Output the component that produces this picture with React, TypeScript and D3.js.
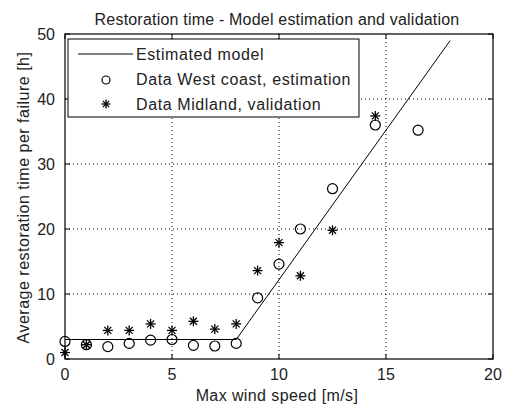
import React from "react";
import * as d3 from "d3";

const title = "Restoration time - Model estimation and validation";
const xLabel = "Max wind speed [m/s]";
const yLabel = "Average restoration time per failure [h]";
const xTicks = [0, 5, 10, 15, 20];
const yTicks = [0, 10, 20, 30, 40, 50];

const modelX = [0, 8, 18];
const modelY = [3, 3, 49];

const westX = [0, 1, 2, 3, 4, 5, 6, 7, 8, 9, 10, 11, 12.5, 14.5, 16.5];
const westY = [2.7, 2.2, 1.9, 2.4, 2.9, 3.0, 2.1, 2.0, 2.4, 9.4, 14.6, 20, 26.2, 36, 35.2];

const midX = [0, 1, 2, 3, 4, 5, 6, 7, 8, 9, 10, 11, 12.5, 14.5];
const midY = [1.0, 2.2, 4.4, 4.4, 5.4, 4.4, 5.8, 4.6, 5.4, 13.6, 17.9, 12.8, 19.8, 37.4];

const legendLabels = ["Estimated model", "Data West coast, estimation", "Data Midland, validation"];

const W = 505;
const H = 405;
const left = 65, right = 493, top = 34, bottom = 359;
const font = "'Liberation Sans', Arial, sans-serif";

function Star({ cx, cy, r }: { cx: number; cy: number; r: number }) {
  const d = r * 0.7;
  return (
    <g stroke="#000" strokeWidth={1.3}>
      <line x1={cx - r} y1={cy} x2={cx + r} y2={cy} />
      <line x1={cx} y1={cy - r} x2={cx} y2={cy + r} />
      <line x1={cx - d} y1={cy - d} x2={cx + d} y2={cy + d} />
      <line x1={cx - d} y1={cy + d} x2={cx + d} y2={cy - d} />
    </g>
  );
}

export default function App() {
  const x = d3.scaleLinear().domain([0, 20]).range([left, right]);
  const y = d3.scaleLinear().domain([0, 50]).range([bottom, top]);
  const line = d3
    .line<number>()
    .x((_, i) => x(modelX[i]))
    .y((v) => y(v));
  const tl = 5;
  return (
    <svg width={W} height={H} style={{ position: "absolute", left: 0, top: 0, background: "#fff" }}>
      <rect x={0} y={0} width={W} height={H} fill="#fff" />
      {/* grid */}
      <g stroke="#000" strokeWidth={1} strokeDasharray="1,3">
        {xTicks.slice(1, -1).map((t) => (
          <line key={"gx" + t} x1={x(t)} x2={x(t)} y1={top} y2={bottom} />
        ))}
        {yTicks.slice(1, -1).map((t) => (
          <line key={"gy" + t} x1={left} x2={right} y1={y(t)} y2={y(t)} />
        ))}
      </g>
      {/* ticks */}
      <g stroke="#000" strokeWidth={1}>
        {xTicks.map((t) => (
          <g key={"tx" + t}>
            <line x1={x(t)} x2={x(t)} y1={bottom} y2={bottom - tl} />
            <line x1={x(t)} x2={x(t)} y1={top} y2={top + tl} />
          </g>
        ))}
        {yTicks.map((t) => (
          <g key={"ty" + t}>
            <line x1={left} x2={left + tl} y1={y(t)} y2={y(t)} />
            <line x1={right} x2={right - tl} y1={y(t)} y2={y(t)} />
          </g>
        ))}
      </g>
      {/* model line */}
      <path d={line(modelY) || ""} fill="none" stroke="#000" strokeWidth={1} />
      {/* west circles */}
      {westX.map((v, i) => (
        <circle key={"w" + i} cx={x(v)} cy={y(westY[i])} r={5} fill="none" stroke="#000" strokeWidth={1.2} />
      ))}
      {/* midland stars */}
      {midX.map((v, i) => (
        <Star key={"m" + i} cx={x(v)} cy={y(midY[i])} r={5} />
      ))}
      {/* axes box */}
      <rect x={left} y={top} width={right - left} height={bottom - top} fill="none" stroke="#000" strokeWidth={1.2} />
      {/* tick labels */}
      <g fontFamily={font} fontSize={16} fill="#222">
        {xTicks.map((t) => (
          <text key={"lx" + t} x={x(t)} y={380} textAnchor="middle">
            {t}
          </text>
        ))}
        {yTicks.map((t) => (
          <text key={"ly" + t} x={55} y={y(t) + 6} textAnchor="end">
            {t}
          </text>
        ))}
        <text x={277} y={401} textAnchor="middle" letterSpacing={0.4}>
          {xLabel}
        </text>
        <text x={277} y={25} textAnchor="middle" letterSpacing={0.2}>
          {title}
        </text>
        <text transform={`translate(29,${(top + bottom) / 2 + 1}) rotate(-90)`} textAnchor="middle" letterSpacing={0.5}>
          {yLabel}
        </text>
      </g>
      {/* legend */}
      <g>
        <rect x={68} y={39} width={291} height={78} fill="#fff" stroke="#000" strokeWidth={1} />
        <line x1={78} x2={133} y1={54} y2={54} stroke="#000" strokeWidth={1} />
        <circle cx={106} cy={80} r={4} fill="none" stroke="#000" strokeWidth={1.2} />
        <Star cx={106} cy={104} r={4.5} />
        <g fontFamily={font} fontSize={16} fill="#222" letterSpacing={0.6}>
          {legendLabels.map((l, i) => (
            <text key={l} x={136} y={60 + i * 25}>
              {l}
            </text>
          ))}
        </g>
      </g>
    </svg>
  );
}
